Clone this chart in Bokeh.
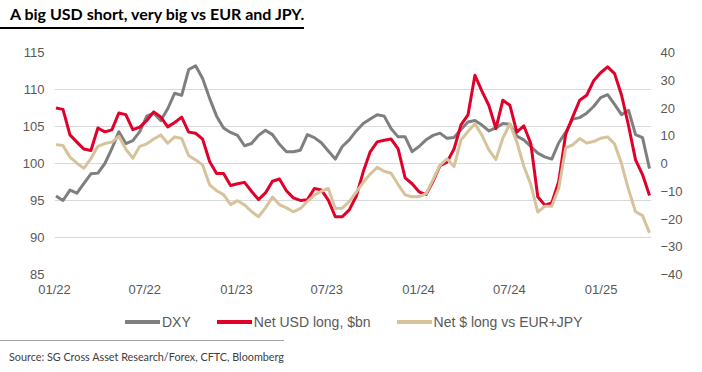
import pandas as pd
from bokeh.plotting import figure
from bokeh.models import (Range1d, LinearAxis, FixedTicker, DatetimeTickFormatter, Div)
from bokeh.layouts import column
from bokeh.embed import file_html
from bokeh.resources import INLINE

title_text = "A big USD short, very big vs EUR and JPY."
source_text = "Source: SG Cross Asset Research/Forex, CFTC, Bloomberg"

# bi-weekly observations, Jan 2022 - Apr 2025
dates = pd.date_range("2022-01-04", periods=86, freq="14D")

dxy = [95.6, 95.0, 96.4, 96.0, 97.3, 98.6, 98.7, 100.0, 102.0, 104.3,
       102.7, 103.1, 104.3, 106.4, 106.8, 105.8, 107.4, 109.5, 109.2, 112.7,
       113.2, 111.5, 108.8, 106.4, 104.8, 104.2, 103.8, 102.4, 102.7, 103.8,
       104.5, 103.9, 102.6, 101.6, 101.6, 101.8, 103.9, 103.5, 102.8, 101.7,
       100.6, 102.3, 103.2, 104.4, 105.4, 106.0, 106.6, 106.4, 104.7, 103.6,
       103.6, 101.6, 102.3, 103.2, 103.8, 104.1, 103.4, 103.5, 104.6, 105.6,
       105.8, 105.2, 104.4, 104.8, 105.4, 105.3, 103.7, 103.2, 102.3, 101.4,
       100.9, 100.6, 102.8, 104.2, 106.0, 106.2, 106.8, 107.7, 108.9, 109.3,
       108.0, 106.6, 107.2, 103.9, 103.5, 99.3]

net_usd = [20.0, 19.5, 10.3, 7.7, 5.2, 4.7, 12.8, 11.4, 12.1, 18.2,
           17.6, 12.2, 13.1, 15.5, 18.6, 16.8, 13.2, 14.8, 16.7, 11.3,
           10.9, 8.8, 0.7, -3.6, -3.6, -7.9, -7.3, -6.8, -10.0, -13.0,
           -10.6, -6.4, -5.6, -9.8, -12.4, -13.3, -13.1, -9.0, -9.5, -13.2,
           -19.2, -19.2, -16.7, -11.8, -3.0, 4.2, 7.8, 8.4, 8.8, 5.3,
           -5.2, -7.3, -10.2, -11.2, -6.4, -0.8, 0.5, 5.2, 13.9, 17.5,
           31.8, 26.1, 20.9, 12.6, 22.8, 21.0, 11.3, 13.6, 7.2, -12.0,
           -15.0, -14.2, -6.5, 10.6, 16.8, 22.8, 24.6, 29.8, 32.7, 34.8,
           32.4, 24.6, 13.6, 1.3, -4.0, -11.5]

net_eur_jpy = [6.8, 6.5, 2.3, 0.1, -1.7, 1.8, 6.2, 7.2, 7.7, 9.8,
               5.2, 1.9, 6.2, 7.1, 8.8, 10.3, 7.3, 9.6, 9.0, 2.9,
               1.3, -0.5, -7.7, -9.8, -11.2, -14.8, -13.4, -14.9, -17.3, -19.2,
               -16.0, -12.1, -14.8, -16.0, -17.4, -16.2, -13.7, -11.4, -10.0, -9.0,
               -16.2, -16.1, -13.7, -10.3, -6.8, -3.8, -1.4, -2.8, -3.5, -7.6,
               -11.3, -12.0, -11.9, -10.9, -5.8, -0.6, 1.7, -1.1, 8.5, 11.5,
               14.3, 10.2, 4.9, 1.4, 9.2, 14.3, 7.8, -1.0, -7.6, -17.5,
               -15.4, -15.4, -8.9, 5.6, 6.7, 9.0, 7.4, 7.9, 9.1, 9.6,
               7.0, -0.1, -9.4, -17.4, -18.8, -25.0]

left_ticks = [85, 90, 95, 100, 105, 110, 115]
right_ticks = [-40, -30, -20, -10, 0, 10, 20, 30, 40]
x_tick_dates = ["2022-01-01", "2022-07-01", "2023-01-01", "2023-07-01",
                "2024-01-01", "2024-07-01", "2025-01-01"]
x_start, x_end = "2022-01-01", "2025-04-12"

series_names = ["DXY", "Net USD long, $bn", "Net $ long vs EUR+JPY"]
colors = ["#7f7f7f", "#e0002a", "#d6c39b"]

AX_FONT = "Liberation Sans"
LABEL_COLOR = "#595959"

p = figure(width=702, height=270, x_axis_type="datetime",
           x_range=Range1d(pd.Timestamp(x_start), pd.Timestamp(x_end)),
           y_range=Range1d(85, 115),
           output_backend="svg", toolbar_location=None,
           min_border_left=54, min_border_right=51, min_border_top=22,
           min_border_bottom=26, outline_line_color=None)

p.yaxis[0].ticker = FixedTicker(ticks=left_ticks)
p.extra_y_ranges = {"right": Range1d(-40, 40)}
right_axis = LinearAxis(y_range_name="right", ticker=FixedTicker(ticks=right_ticks))
p.add_layout(right_axis, "right")

x_ticks = [pd.Timestamp(d).value // 10**6 for d in x_tick_dates]
p.xaxis[0].ticker = FixedTicker(ticks=x_ticks)
fmt = "%m/%y"
p.xaxis[0].formatter = DatetimeTickFormatter(
    microseconds=fmt, milliseconds=fmt, seconds=fmt, minsec=fmt, minutes=fmt,
    hourmin=fmt, hours=fmt, days=fmt, months=fmt, years=fmt,
    strip_leading_zeros=False)

for ax in [p.yaxis[0], right_axis, p.xaxis[0]]:
    ax.axis_line_color = None
    ax.major_tick_line_color = None
    ax.minor_tick_line_color = None
    ax.major_tick_out = 0
    ax.major_tick_in = 0
    ax.major_label_text_font = AX_FONT
    ax.major_label_text_font_size = "13px"
    ax.major_label_text_color = LABEL_COLOR
p.yaxis[0].major_label_standoff = 10
right_axis.major_label_standoff = 9
p.xaxis[0].major_label_standoff = 7

p.xgrid.visible = False
p.ygrid.grid_line_color = "#d9d9d9"
p.ygrid.grid_line_width = 1

p.line(dates, dxy, line_color=colors[0], line_width=3, line_join="round")
p.line(dates, net_usd, y_range_name="right", line_color=colors[1],
       line_width=3, line_join="round")
p.line(dates, net_eur_jpy, y_range_name="right", line_color=colors[2],
       line_width=3, line_join="round")

# legend row (HTML), swatch + label per series
items_html = ""
for i, (name, col) in enumerate(zip(series_names, colors)):
    ml = 0 if i == 0 else 26
    items_html += (
        f'<span style="display:inline-block;width:35px;height:4px;background:{col};'
        f'margin-left:{ml}px;margin-right:2px;"></span>'
        f'<span style="line-height:16px;">{name}</span>')
legend_div = Div(
    text=('<div style="display:flex;align-items:center;padding-left:125px;'
          'padding-top:4px;height:40px;font-family:\'Liberation Sans\';font-size:14px;'
          f'color:{LABEL_COLOR};white-space:nowrap;">' + items_html + '</div>'),
    width=702, height=40, margin=0)

title_div = Div(
    text=('<div style="height:29px;padding-top:4px;line-height:20px;'
          'border-bottom:2px solid #000;padding-left:10px;font-family:Lato;'
          'font-weight:bold;font-size:16px;color:#000;white-space:nowrap;">'
          + title_text + '</div>'),
    width=702, height=30, margin=0)

source_div = Div(
    text=('<div style="border-top:1px solid #a6a6a6;padding-top:9px;padding-left:9px;'
          'font-family:Lato;font-size:10.8px;line-height:13px;color:#404040;'
          'white-space:nowrap;">' + source_text + '</div>'),
    width=702, height=32, margin=0)

layout = column(title_div, p, legend_div, source_div, spacing=0)

open("out.html", "w").write(file_html(layout, INLINE))
